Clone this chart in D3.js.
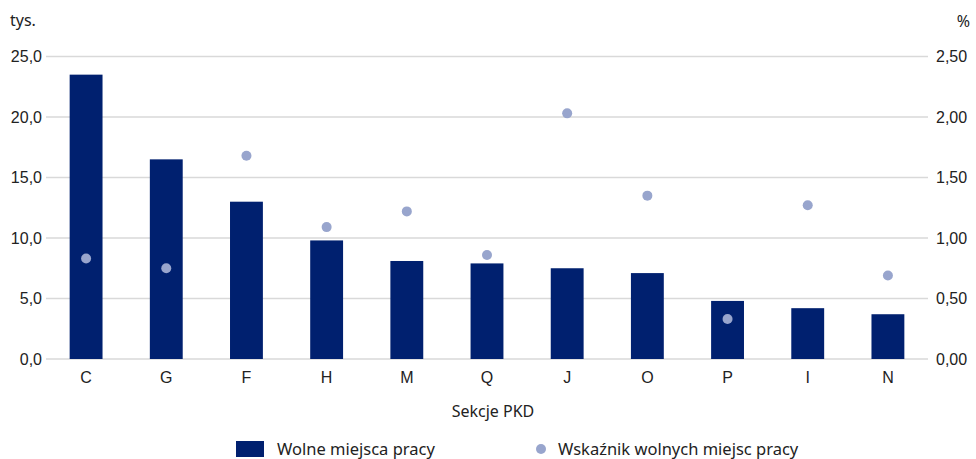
<!DOCTYPE html>
<html lang="pl">
<head>
<meta charset="UTF-8">
<title>Wolne miejsca pracy</title>
<script src="https://d3js.org/d3.v7.min.js"></script>
<style>
  body { margin: 0; background: #fff; }
  svg { display: block; font-family: "Noto Sans", sans-serif; }
  .grid line { stroke: #d9d9d9; stroke-width: 1.5; }
  .tick text { font-size: 16px; fill: #222; }
  .lbl { font-size: 16px; fill: #222; }
  .leg { font-size: 16.5px; fill: #222; }
</style>
</head>
<body>
<svg width="976" height="459"></svg>
<script>
  const categories = ["C", "G", "F", "H", "M", "Q", "J", "O", "P", "I", "N"];
  const vacancies = [23.5, 16.5, 13.0, 9.8, 8.1, 7.9, 7.5, 7.1, 4.8, 4.2, 3.7];   // tys.
  const rate = [0.83, 0.75, 1.68, 1.09, 1.22, 0.86, 2.03, 1.35, 0.33, 1.27, 0.69]; // %
  const leftTicks = [0, 5, 10, 15, 20, 25];
  const rightTicks = [0, 0.5, 1, 1.5, 2, 2.5];

  const svg = d3.select("svg");
  const m = { left: 46, right: 928, top: 56.5, bottom: 359 };

  const x = d3.scaleBand().domain(categories).range([m.left, m.right]).paddingInner(0.59).paddingOuter(0.295);
  const yL = d3.scaleLinear().domain([0, 25]).range([m.bottom, m.top]);
  const yR = d3.scaleLinear().domain([0, 2.5]).range([m.bottom, m.top]);

  const fmt1 = d3.format(".1f"), fmt2 = d3.format(".2f");
  const pl = f => v => f(v).replace(".", ",");

  // gridlines
  svg.append("g").attr("class", "grid")
    .selectAll("line").data(leftTicks).join("line")
    .attr("x1", m.left).attr("x2", m.right)
    .attr("y1", d => yL(d)).attr("y2", d => yL(d));

  // left / right axis labels
  const gl = svg.append("g").attr("transform", `translate(${m.left - 4},0)`)
    .call(d3.axisLeft(yL).tickValues(leftTicks).tickFormat(pl(fmt1)).tickSize(0).tickPadding(0));
  gl.select(".domain").remove();

  const gr = svg.append("g").attr("transform", `translate(${m.right + 8},0)`)
    .call(d3.axisRight(yR).tickValues(rightTicks).tickFormat(pl(fmt2)).tickSize(0).tickPadding(0));
  gr.select(".domain").remove();

  // bars
  svg.append("g").selectAll("rect").data(vacancies).join("rect")
    .attr("x", (d, i) => x(categories[i]))
    .attr("width", x.bandwidth())
    .attr("y", d => yL(d))
    .attr("height", d => yL(0) - yL(d))
    .attr("fill", "#00206f");

  // dots
  svg.append("g").selectAll("circle").data(rate).join("circle")
    .attr("cx", (d, i) => x(categories[i]) + x.bandwidth() / 2)
    .attr("cy", d => yR(d))
    .attr("r", 5)
    .attr("fill", "#98a5cd");

  // category axis
  const gx = svg.append("g").attr("transform", `translate(0,${m.bottom + 13})`)
    .call(d3.axisBottom(x).tickSize(0).tickPadding(0));
  gx.select(".domain").remove();
  gx.selectAll(".tick text").attr("dy", "0.71em");

  svg.append("text").attr("class", "lbl").attr("x", 493).attr("y", 417)
    .attr("text-anchor", "middle").text("Sekcje PKD");
  svg.append("text").attr("class", "lbl").attr("x", 10).attr("y", 26).text("tys.");
  svg.append("text").attr("class", "lbl").attr("x", 970).attr("y", 27)
    .attr("text-anchor", "end").text("%");

  // legend
  const lg = svg.append("g");
  lg.append("rect").attr("x", 236).attr("y", 441).attr("width", 28).attr("height", 16).attr("fill", "#00206f");
  lg.append("text").attr("class", "leg").attr("x", 277).attr("y", 455).text("Wolne miejsca pracy");
  lg.append("circle").attr("cx", 541).attr("cy", 449).attr("r", 5).attr("fill", "#98a5cd");
  lg.append("text").attr("class", "leg").attr("x", 558).attr("y", 455).text("Wskaźnik wolnych miejsc pracy");
</script>
</body>
</html>
